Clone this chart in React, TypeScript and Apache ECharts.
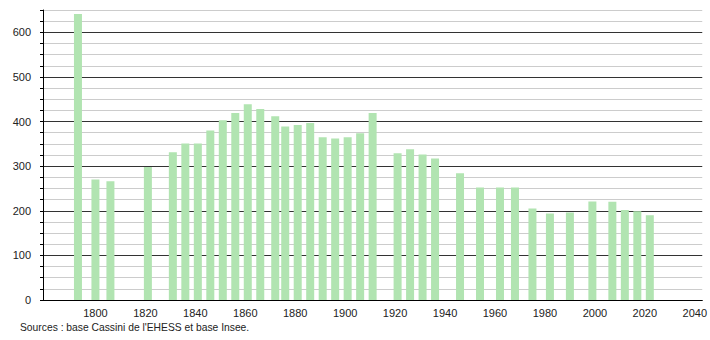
import React, { useEffect, useRef } from "react";
import * as echarts from "echarts";

const years = [
  1793, 1800, 1806, 1821, 1831, 1836, 1841, 1846, 1851, 1856, 1861, 1866, 1872,
  1876, 1881, 1886, 1891, 1896, 1901, 1906, 1911, 1921, 1926, 1931, 1936, 1946,
  1954, 1962, 1968, 1975, 1982, 1990, 1999, 2007, 2012, 2017, 2022,
];
const population = [
  641, 270, 266, 298, 331, 351, 351, 380, 403, 419, 439, 428, 412,
  389, 392, 397, 365, 362, 365, 374, 419, 329, 338, 326, 317, 284,
  252, 252, 252, 205, 194, 196, 221, 220, 202, 199, 190,
];
const xTickLabels = [1800, 1820, 1840, 1860, 1880, 1900, 1920, 1940, 1960, 1980, 2000, 2020, 2040];
const sourceText = "Sources : base Cassini de l'EHESS et base Insee.";

export default function App() {
  const ref = useRef<HTMLDivElement>(null);
  useEffect(() => {
    if (!ref.current) return;
    const chart = echarts.init(ref.current, null, { renderer: "svg" });
    const font = "'Liberation Sans', Arial, sans-serif";
    chart.setOption({
      animation: false,
      backgroundColor: "#ffffff",
      grid: { left: 43, right: 7, top: 10, bottom: 40, containLabel: false },
      xAxis: {
        type: "value",
        min: 1779,
        max: 2043,
        axisLine: { show: true, lineStyle: { color: "#000", width: 1 } },
        axisTick: { show: false },
        splitLine: { show: false },
        axisLabel: {
          customValues: xTickLabels,
          formatter: (v: number) => String(v),
          fontFamily: font,
          fontSize: 11,
          color: "#222",
          margin: 7,
        },
      },
      yAxis: {
        type: "value",
        min: 0,
        max: 650,
        interval: 25,
        axisLine: { show: true, lineStyle: { color: "#000", width: 1 } },
        axisTick: { show: true, length: 3, lineStyle: { color: "#000" } },
        splitLine: {
          show: true,
          lineStyle: { color: ["#333333", "#cccccc", "#cccccc", "#cccccc"], width: 1 },
        },
        axisLabel: {
          formatter: (v: number) => (v % 100 === 0 ? String(v) : ""),
          fontFamily: font,
          fontSize: 11,
          color: "#222",
          margin: 12,
        },
      },
      series: [
        {
          type: "bar",
          data: years.map((y, i) => [y, population[i]]),
          barWidth: 8,
          itemStyle: { color: "#b1e4b1" },
        },
      ],
      graphic: [
        {
          type: "text",
          left: 20,
          top: 322,
          style: { text: sourceText, fontFamily: font, fontSize: 10.3, fill: "#222" },
        },
      ],
    });
    return () => chart.dispose();
  }, []);
  return (
    <div
      ref={ref}
      style={{ position: "fixed", left: 0, top: 0, width: 710, height: 340 }}
    />
  );
}
